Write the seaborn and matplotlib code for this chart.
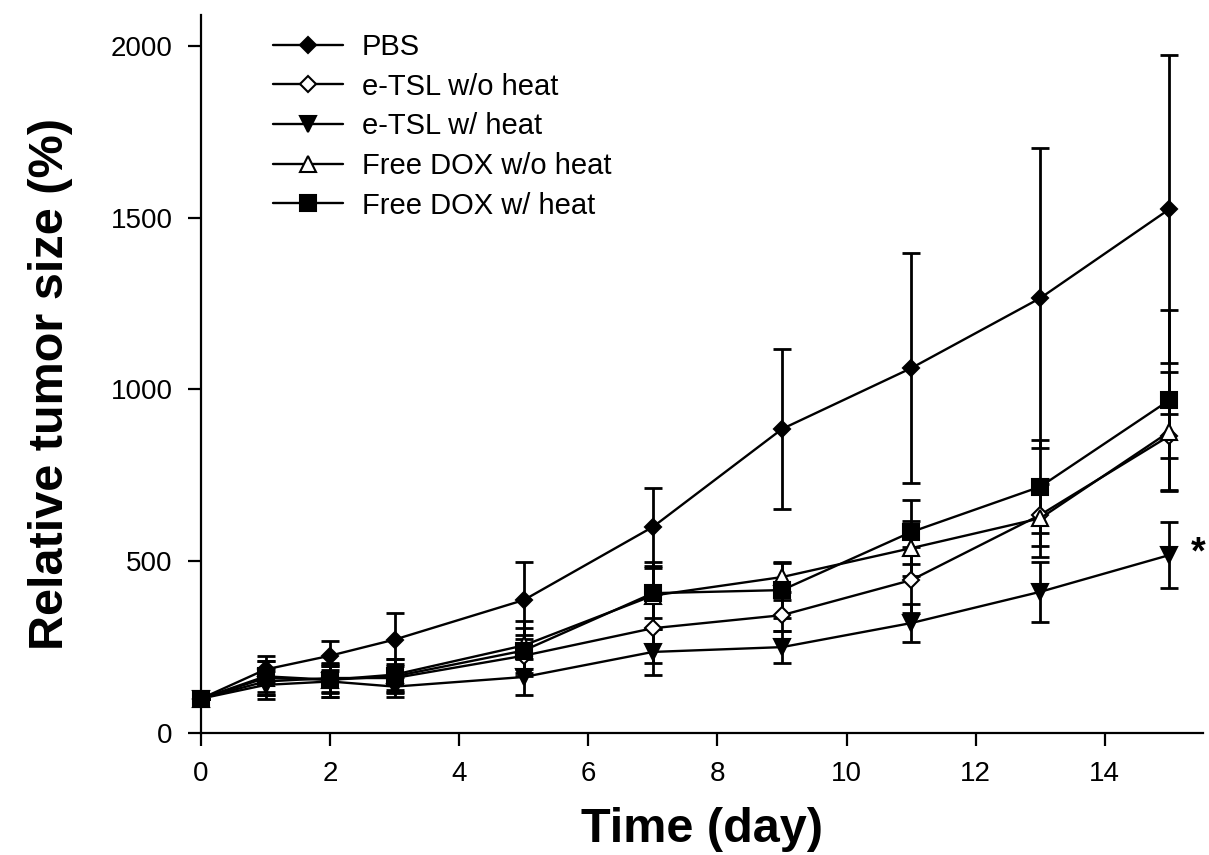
import matplotlib
matplotlib.use("Agg")
import matplotlib.pyplot as plt
import pandas as pd
import seaborn as sns

# Days after treatment
days = [0, 1, 2, 3, 5, 7, 9, 11, 13, 15]

groups = ["PBS", "e-TSL w/o heat", "e-TSL w/ heat", "Free DOX w/o heat", "Free DOX w/ heat"]

# Mean relative tumor size (%) per group
pbs = [100, 185, 225, 272, 387, 600, 885, 1062, 1266, 1525]
etsl_noheat = [100, 150, 160, 160, 225, 305, 343, 445, 635, 865]
etsl_heat = [100, 140, 150, 135, 163, 236, 250, 320, 411, 518]
dox_noheat = [100, 160, 155, 170, 255, 400, 454, 538, 625, 877]
dox_heat = [100, 165, 155, 165, 240, 407, 416, 585, 717, 969]

# Error (SD) per group
pbs_err = [0, 40, 42, 78, 112, 113, 232, 335, 437, 449]
etsl_noheat_err = [0, 40, 40, 40, 60, 100, 45, 96, 90, 64]
etsl_heat_err = [0, 40, 45, 30, 53, 67, 46, 55, 88, 95]
dox_noheat_err = [0, 50, 40, 45, 70, 98, 44, 80, 113, 174]
dox_heat_err = [0, 45, 50, 50, 65, 72, 80, 93, 136, 262]

means = [pbs, etsl_noheat, etsl_heat, dox_noheat, dox_heat]
errs = [pbs_err, etsl_noheat_err, etsl_heat_err, dox_noheat_err, dox_heat_err]

frames = []
for g, m, e in zip(groups, means, errs):
    frames.append(pd.DataFrame({"day": days, "size": m, "err": e, "group": g}))
df = pd.concat(frames, ignore_index=True)

# marker, size, face colour for each group
styles = {
    "PBS": ("D", 8.5, "black"),
    "e-TSL w/o heat": ("D", 8.5, "white"),
    "e-TSL w/ heat": ("v", 12, "black"),
    "Free DOX w/o heat": ("^", 11, "white"),
    "Free DOX w/ heat": ("s", 11.5, "black"),
}

sns.set_style("ticks")
plt.rcParams["font.family"] = ["Liberation Sans", "DejaVu Sans"]
plt.rcParams["text.color"] = "black"
plt.rcParams["axes.labelcolor"] = "black"

fig = plt.figure(figsize=(12.09, 8.55), dpi=100)
ax = fig.add_axes([201 / 1209, 1 - 733 / 855, 1002 / 1209, 718 / 855])

for g in groups:
    sub = df[df["group"] == g]
    ax.errorbar(sub["day"], sub["size"], yerr=sub["err"], fmt="none",
                ecolor="black", elinewidth=2.0, capsize=6.5, capthick=2.0,
                zorder=2, clip_on=False)

for g in groups:
    sub = df[df["group"] == g]
    mk, ms, fc = styles[g]
    sns.lineplot(data=sub, x="day", y="size", ax=ax, color="black",
                 linewidth=1.7, marker=mk, markersize=ms,
                 markerfacecolor=fc, markeredgecolor="black",
                 markeredgewidth=1.5, errorbar=None, label=g,
                 zorder=3, clip_on=False)

ax.set_xlim(0, 15.52)
ax.set_ylim(0, 2090)
ax.set_xticks([0, 2, 4, 6, 8, 10, 12, 14])
ax.set_yticks([0, 500, 1000, 1500, 2000])

sns.despine(ax=ax)
for side in ("left", "bottom"):
    ax.spines[side].set_linewidth(1.6)
    ax.spines[side].set_color("black")
ax.tick_params(axis="both", direction="out", length=9.5, width=1.6,
               colors="black", labelcolor="black", labelsize=20, pad=11)

ax.set_xlabel("Time (day)", fontsize=35, fontweight="bold", labelpad=14)
ax.set_ylabel("Relative tumor size (%)", fontsize=35, fontweight="bold")
ax.yaxis.set_label_coords(-0.128, 0.486)

leg = ax.legend(loc="upper left", bbox_to_anchor=(0.072, 0.975), frameon=False,
                fontsize=21, handlelength=2.4, handletextpad=0.65,
                labelspacing=0.40, borderpad=0, borderaxespad=0)
for t in leg.get_texts():
    t.set_color("black")

ax.text(15.45, 522, "*", fontsize=27, fontweight="bold", ha="center",
        va="center", color="black", clip_on=False)

fig.savefig("out.png", dpi=100, facecolor="white")
